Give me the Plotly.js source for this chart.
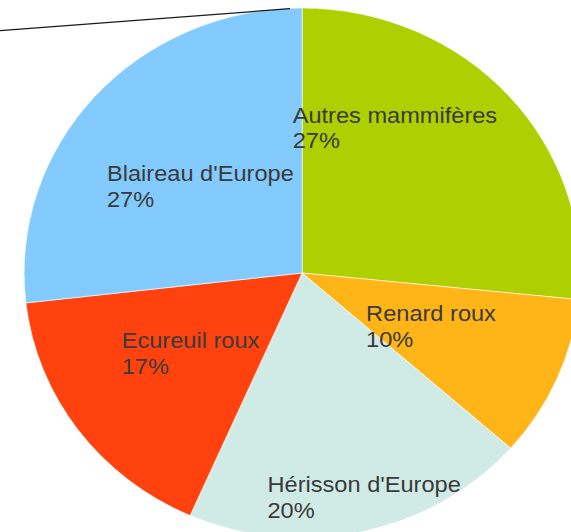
<!DOCTYPE html>
<html>
<head>
<meta charset="utf-8">
<script src="https://cdn.plot.ly/plotly-3.0.1.min.js"></script>
<style>
html,body{margin:0;padding:0;overflow:hidden;background:#fff;width:571px;height:532px}
#chart{position:absolute;left:0;top:0;width:576px;height:546px;transform:scaleX(1.049);transform-origin:0 0}
</style>
</head>
<body>
<div id="chart"></div>
<script>
// Data
var categories = ["Autres mammifères", "Renard roux", "Hérisson d'Europe", "Ecureuil roux", "Blaireau d'Europe"];
var values = [26.6, 9.9, 20.1, 16.6, 26.8];
var colors = ["#aecf00", "#ffb417", "#d0eae6", "#ff420e", "#83caff"];

// Label placement (screen pixels: left edge, middle of first line)
var labelPos = [[290.5, 115], [363.5, 313], [265.5, 484], [119.5, 340], [104.5, 173]];

var S = 1.049, W = 576, H = 546, LINE = 26;
function px(x){ return (x / S) / W; }
function py(y){ return 1 - y / H; }

var total = values.reduce(function(a,b){return a+b;}, 0);
var annotations = [];
categories.forEach(function(c, i){
  var pct = Math.round(values[i] / total * 100) + "%";
  var p = labelPos[i];
  [c, pct].forEach(function(t, k){
    annotations.push({
      xref: "paper", yref: "paper",
      x: px(p[0]), y: py(p[1] + k * LINE),
      xanchor: "left", yanchor: "middle",
      text: t, showarrow: false, align: "left",
      font: {family: "Liberation Sans, Arial, sans-serif", size: 22.5, color: "#3a3a3a"}
    });
  });
});

var trace = {
  type: "pie",
  labels: categories,
  values: values,
  sort: false,
  direction: "clockwise",
  rotation: 0,
  textinfo: "none",
  hoverinfo: "skip",
  marker: {colors: colors, line: {color: "#ffffff", width: 0.6}},
  domain: {x: [0, 1], y: [py(538), py(8)]},
  showlegend: false
};

var layout = {
  width: W, height: H,
  margin: {l: 0, r: 0, t: 0, b: 0},
  paper_bgcolor: "#ffffff",
  showlegend: false,
  annotations: annotations,
  shapes: [{
    type: "line", xref: "paper", yref: "paper",
    x0: px(0), y0: py(30.7), x1: px(290), y1: py(8.7),
    line: {color: "#1a1a1a", width: 1.3}
  }]
};

Plotly.newPlot("chart", [trace], layout, {staticPlot: true, displayModeBar: false});
</script>
</body>
</html>
